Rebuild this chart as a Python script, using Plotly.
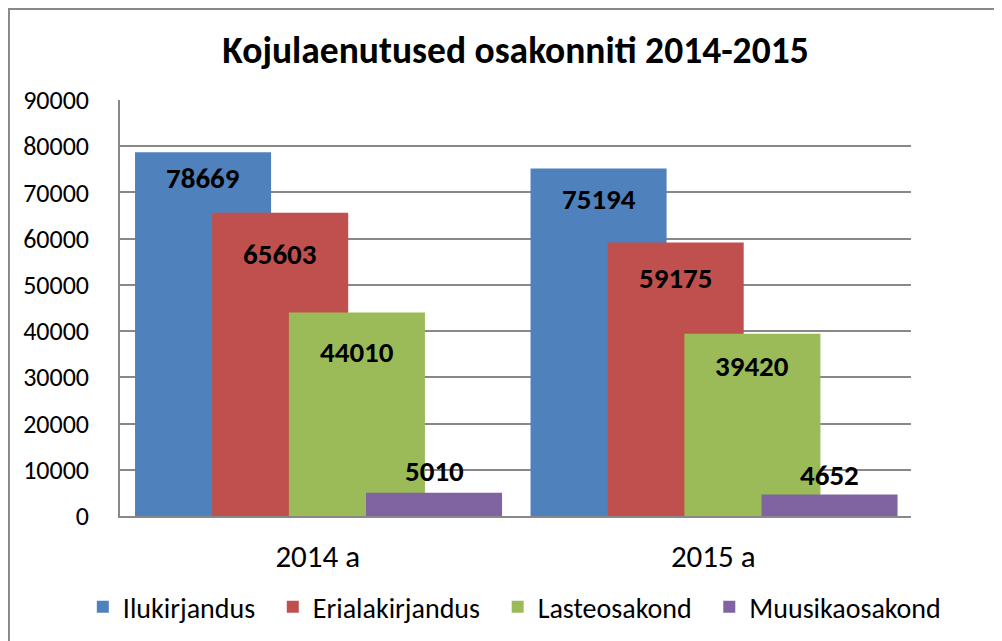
import plotly.graph_objects as go

categories = ["2014 a", "2015 a"]
series_names = ["Ilukirjandus", "Erialakirjandus", "Lasteosakond", "Muusikaosakond"]
ilukirjandus = [78669, 75194]
erialakirjandus = [65603, 59175]
lasteosakond = [44010, 39420]
muusikaosakond = [5010, 4652]
y_ticks = [0, 10000, 20000, 30000, 40000, 50000, 60000, 70000, 80000, 90000]

values = [ilukirjandus, erialakirjandus, lasteosakond, muusikaosakond]
colors = ["#4F81BD", "#C0504D", "#9BBB59", "#8064A2"]
offsets = [-0.462, -0.267, -0.073, 0.122]
bar_width = 0.344
label_shift = [[-26, -31], [-41, -36], [-39, -32], [22, 20]]
legend_pad = "\u00a0\u00a0"

FONT = "Carlito, Calibri, Lato, sans-serif"

fig = go.Figure()
annotations = []
for i, (name, vals) in enumerate(zip(series_names, values)):
    fig.add_trace(go.Bar(
        x=[0, 1], y=vals, name=name + legend_pad,
        marker=dict(color=colors[i], line=dict(width=0)),
        offset=offsets[i], width=bar_width,
    ))
    for j, v in enumerate(vals):
        annotations.append(dict(
            x=j + offsets[i] + bar_width / 2, y=v, xref="x", yref="y",
            text="<b>%d</b>" % v, showarrow=False, yshift=label_shift[i][j],
            font=dict(family=FONT, size=29, color="black"),
        ))

fig.update_layout(
    barmode="overlay",
    width=1002, height=641,
    margin=dict(l=112, r=99, t=92, b=133, autoexpand=False),
    paper_bgcolor="white", plot_bgcolor="white",
    title=dict(text="<b>Kojulaenutused osakonniti 2014-2015</b>", x=0.5, xref="paper",
               y=0.934, yref="container", yanchor="middle",
               font=dict(family=FONT, size=37.5, color="black")),
    font=dict(family=FONT, color="black"),
    xaxis=dict(range=[-0.5, 1.5], tickvals=[0, 1], ticktext=categories, showgrid=False,
               showline=True, linecolor="#888888", linewidth=1.5, ticks="", automargin=False,
               tickfont=dict(size=31, family=FONT, color="black"), ticklabelstandoff=12),
    yaxis=dict(range=[0, 90000], tickvals=y_ticks, tickformat="d", showgrid=True,
               gridcolor="#888888", automargin=False,
               gridwidth=1.5, showline=True, linecolor="#888888", linewidth=1.5,
               ticks="", zeroline=False, tickfont=dict(size=26, family=FONT, color="black"),
               ticklabelstandoff=24),
    legend=dict(orientation="h", xref="paper", x=-0.047, xanchor="left",
                y=-0.219, yanchor="middle", bgcolor="rgba(0,0,0,0)",
                font=dict(size=28, family=FONT, color="black"), itemwidth=30,
                tracegroupgap=0, traceorder="normal"),
    annotations=annotations,
    shapes=[dict(type="rect", xref="paper", yref="paper", x0=-0.1404, y0=-0.6,
                 x1=1.3, y1=1.2185, line=dict(color="#888888", width=2),
                 fillcolor="rgba(0,0,0,0)", layer="below")],
)

fig.write_html("out.html")
